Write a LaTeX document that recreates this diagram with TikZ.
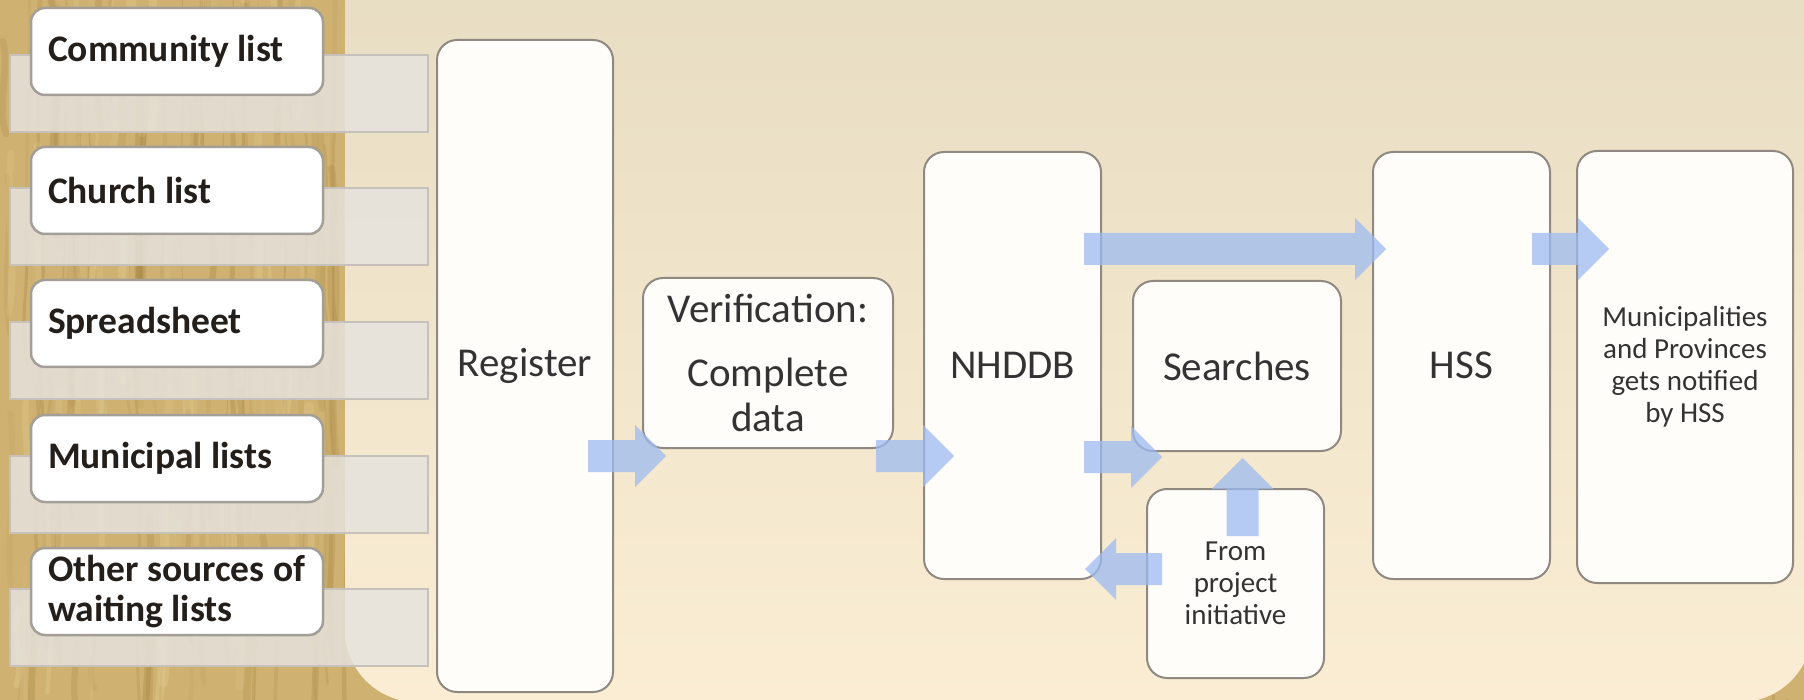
\documentclass[tikz,border=0pt]{standalone}
\usepackage{fontspec}
\setmainfont{Carlito}
\usetikzlibrary{calc}

\definecolor{wood}{HTML}{CFB272}
\definecolor{woodDark}{HTML}{A5823F}
\definecolor{woodLight}{HTML}{E4CE94}
\definecolor{panelTop}{HTML}{E6DCC2}
\definecolor{panelBot}{HTML}{FAEDD3}
\definecolor{boxline}{HTML}{8F8982}
\definecolor{boxfill}{HTML}{FFFDF9}
\definecolor{ink}{HTML}{333333}
\definecolor{srcline}{HTML}{A39E97}
\definecolor{srcink}{HTML}{241F1A}
\definecolor{bandfill}{HTML}{E6E3DD}
\definecolor{bandline}{HTML}{C6C2BB}
\definecolor{flowblue}{HTML}{9DBBF2}

\tikzset{
  natural spaces/.style={execute at begin node={\spaceskip=0pt\xspaceskip=0pt}},
  stage/.style={draw=boxline, line width=2pt, fill=boxfill, rounded corners=20pt,
    text=ink, font=\fontsize{41}{45}\selectfont, align=center, inner sep=0pt, natural spaces},
  smallstage/.style={stage, font=\fontsize{29}{32}\selectfont},
  source/.style={draw=srcline, line width=2.5pt, fill=white, rounded corners=14pt,
    minimum width=292pt, minimum height=87pt, text width=258pt, align=left,
    inner xsep=17pt, inner ysep=0pt, font=\bfseries\fontsize{37.5}{40}\selectfont, text=srcink,
    natural spaces},
  band/.style={draw=bandline, line width=2pt, fill=bandfill, fill opacity=.85,
    minimum width=418pt, minimum height=77pt, inner sep=0pt},
  flow/.style={fill=flowblue, fill opacity=.75},
}

% block arrow from #1 to the tip #2 (coordinate names)
\newcommand\flowarrow[2]{%
  \coordinate (fa-h) at ($(#2)!31pt!(#1)$);
  \fill[flow] ($(#1)!16pt!90:(#2)$) -- ($(fa-h)!16pt!90:(#2)$) -- ($(fa-h)!31pt!90:(#2)$)
    -- (#2) -- ($(fa-h)!31pt!-90:(#2)$) -- ($(fa-h)!16pt!-90:(#2)$)
    -- ($(#1)!16pt!-90:(#2)$) -- cycle;}

\begin{document}
\begin{tikzpicture}[x=1pt,y=-1pt]
\useasboundingbox (0,0) rectangle (1804,700);
\begin{scope}
  \clip (0,0) rectangle (1804,700);
  % wooden backdrop
  \fill[wood] (0,0) rectangle (1804,700);
  \pgfmathsetseed{42}
  \foreach \k in {1,...,120}{
    \pgfmathsetmacro\xa{rnd*370}
    \pgfmathsetmacro\ya{rnd*760-120}
    \pgfmathsetmacro\w{1+rnd*7}
    \pgfmathsetmacro\op{.08+.25*rnd}
    \pgfmathsetmacro\len{60+rnd*260}
    \draw[woodDark, line width=\w pt, opacity=\op, line cap=round]
      (\xa,\ya) .. controls (\xa+7,\ya+\len/3) and (\xa-7,\ya+2*\len/3) .. (\xa+3,\ya+\len);
  }
  \foreach \k in {1,...,60}{
    \pgfmathsetmacro\xa{rnd*370}
    \pgfmathsetmacro\ya{rnd*760-120}
    \pgfmathsetmacro\w{2+rnd*9}
    \pgfmathsetmacro\op{.1+.25*rnd}
    \pgfmathsetmacro\len{40+rnd*220}
    \draw[woodLight, line width=\w pt, opacity=\op, line cap=round]
      (\xa,\ya) .. controls (\xa-6,\ya+\len/3) and (\xa+6,\ya+2*\len/3) .. (\xa-2,\ya+\len);
  }
  \foreach \k in {1,...,14}{
    \pgfmathsetmacro\xa{1650+rnd*160}
    \pgfmathsetmacro\ya{640+rnd*60}
    \draw[woodDark, line width=3pt, opacity=.3] (\xa,\ya) -- ++(4,40);
  }
  % cream panel
  \shade[top color=panelTop, bottom color=panelBot, rounded corners=72pt]
    (345,-80) rectangle (1812,702);
\end{scope}

% source lists
\node[band] (b1) at (219,93.5) {};
\node[band] (b2) at (219,226.5) {};
\node[band] (b3) at (219,360.5) {};
\node[band] (b4) at (219,494.5) {};
\node[band] (b5) at (219,627.5) {};

\node[source] (s1) at (177,51.5) {Community list};
\node[source] (s2) at (177,190.5) {Church list};
\node[source] (s3) at (177,323.5) {Spreadsheet};
\node[source] (s4) at (177,458.5) {Municipal lists};
\node[source] (s5) at (177,591.5) {Other sources of\\waiting lists};

% process stages
\node[stage, minimum width=176pt, minimum height=652pt] (reg) at (525,366) {Register};
\node[stage, minimum width=250pt, minimum height=170pt] (ver) at (768,363) {Verification:\\[19pt]Complete\\data};
\node[stage, minimum width=177pt, minimum height=427pt] (nh) at (1012.5,365.5) {NHDDB};
\node[stage, minimum width=208pt, minimum height=170pt] (sea) at (1237,366) {Searches};
\node[smallstage, minimum width=177pt, minimum height=189pt] (frm) at (1235.5,583.5) {From\\project\\initiative};
\node[stage, minimum width=177pt, minimum height=427pt] (hss) at (1461.5,365.5) {HSS};
\node[smallstage, minimum width=216pt, minimum height=432pt] (mun) at (1685,367) {Municipalities\\and Provinces\\gets notified\\by HSS};

% flow arrows
\coordinate (a1s) at ([shift={(-26,90)}]reg.east);
\coordinate (a1e) at ([shift={(24,93)}]ver.west);
\coordinate (a2s) at ([shift={(-18,93)}]ver.east);
\coordinate (a2e) at ([shift={(31,90.5)}]nh.west);
\coordinate (a3s) at ([shift={(-18,-116.5)}]nh.east);
\coordinate (a3e) at ([shift={(14,-116.5)}]hss.west);
\coordinate (a4s) at ([shift={(-19,-116.5)}]hss.east);
\coordinate (a4e) at ([shift={(33,-118)}]mun.west);
\coordinate (a5s) at ([shift={(-18,91.5)}]nh.east);
\coordinate (a5e) at ([shift={(30,91)}]sea.west);
\coordinate (a6s) at ([shift={(7,48)}]frm.north);
\coordinate (a6e) at ([shift={(5.5,6)}]sea.south);
\coordinate (a7s) at ([shift={(16,-14.5)}]frm.west);
\coordinate (a7e) at ([shift={(-17,203.5)}]nh.east);

\flowarrow{a1s}{a1e}
\flowarrow{a2s}{a2e}
\flowarrow{a3s}{a3e}
\flowarrow{a4s}{a4e}
\flowarrow{a5s}{a5e}
\flowarrow{a6s}{a6e}
\flowarrow{a7s}{a7e}
\end{tikzpicture}
\end{document}
